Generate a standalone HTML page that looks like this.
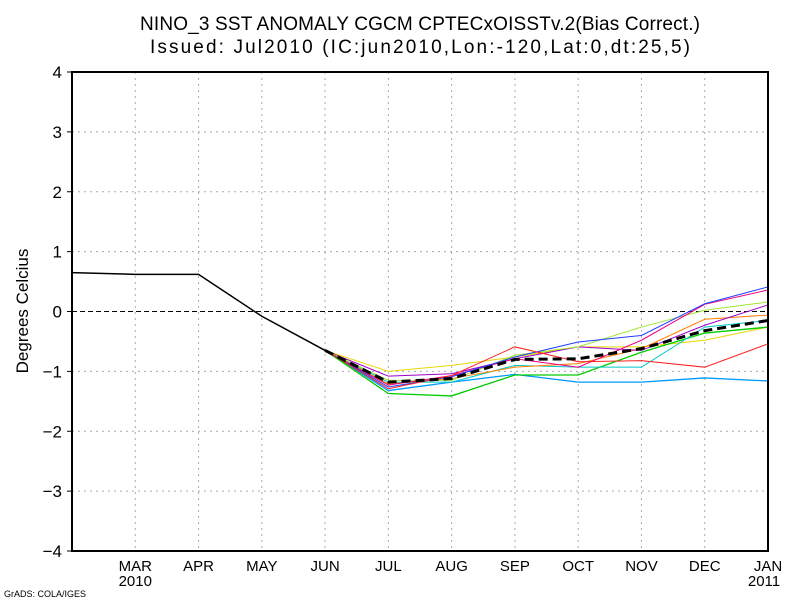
<!DOCTYPE html>
<html><head><meta charset="utf-8"><style>
body{margin:0;background:#fff;}
svg text{font-family:"Liberation Sans",sans-serif;fill:#000;}
</style></head><body>
<svg id="c" width="800" height="600" xmlns="http://www.w3.org/2000/svg">
<text x="420" y="30" text-anchor="middle" font-size="19" textLength="560">NINO_3 SST ANOMALY CGCM CPTECxOISSTv.2(Bias Correct.)</text>
<text x="420" y="53" text-anchor="middle" font-size="19" textLength="540">Issued:  Jul2010 (IC:jun2010,Lon:-120,Lat:0,dt:25,5)</text>
<text transform="translate(28,311) rotate(-90)" text-anchor="middle" font-size="17">Degrees Celcius</text>
<text x="4" y="597" font-size="9">GrADS: COLA/IGES</text>
<g id="grid"></g><g id="marks"></g><g id="axes"></g>
</svg>
<script>
const months=["FEB","MAR","APR","MAY","JUN","JUL","AUG","SEP","OCT","NOV","DEC","JAN"];
const yTicks=[4,3,2,1,0,-1,-2,-3,-4];
const observed=[0.65,0.62,0.62,-0.08,-0.65];
const ensRed=[-0.65,-1.29,-1.07,-0.59,-0.84,-0.82,-0.93,-0.54];
const ensBlue=[-0.65,-1.26,-1.09,-0.76,-0.51,-0.40,0.13,0.41];
const ensPink=[-0.65,-1.23,-1.07,-0.79,-0.93,-0.48,0.12,0.36];
const ensLime=[-0.65,-1.15,-1.15,-0.73,-0.59,-0.26,0.02,0.16];
const ensPurple=[-0.65,-1.08,-1.04,-0.79,-0.59,-0.65,-0.23,0.11];
const ensOrange=[-0.65,-1.21,-1.12,-0.93,-0.87,-0.62,-0.13,-0.06];
const ensTeal=[-0.65,-1.18,-1.18,-0.90,-0.93,-0.93,-0.26,-0.15];
const ensGreen=[-0.65,-1.37,-1.41,-1.06,-1.06,-0.68,-0.36,-0.26];
const ensYellow=[-0.65,-1.0,-0.9,-0.76,-0.59,-0.59,-0.48,-0.26];
const ensAzure=[-0.65,-1.32,-1.18,-1.05,-1.18,-1.18,-1.11,-1.16];
const ensMean=[-0.65,-1.18,-1.12,-0.80,-0.79,-0.62,-0.32,-0.15];
const X0=72,X1=768,Y0=72,Y1=551;
const xs=i=>X0+i*(X1-X0)/11;
const ys=v=>Y0+(4-v)*(Y1-Y0)/8;
const NS="http://www.w3.org/2000/svg";
function mk(tag,parent,attrs){const e=document.createElementNS(NS,tag);for(const k in attrs)e.setAttribute(k,attrs[k]);parent.appendChild(e);return e;}
const grid=document.getElementById('grid'),marks=document.getElementById('marks'),axes=document.getElementById('axes');
for(let i=1;i<11;i++){const l=mk('line',grid,{x1:xs(i),x2:xs(i),y1:Y0,y2:Y1,stroke:'#aaa','stroke-dasharray':'2,4'});

}
yTicks.forEach(v=>{if(v!==0&&v!==4&&v!==-4){const l=mk('line',grid,{x1:X0,x2:X1,y1:ys(v),y2:ys(v),stroke:'#aaa','stroke-dasharray':'2,4'});

}
const t=mk('text',axes,{x:X0-10,y:ys(v)+6,'text-anchor':'end','font-size':'17'});t.textContent=v<0?'\u2212'+(-v):String(v);


const tk=mk('line',axes,{x1:X0-5,x2:X0,y1:ys(v),y2:ys(v),stroke:'#000'});

});
const zl=mk('line',grid,{x1:X0,x2:X1,y1:ys(0),y2:ys(0),stroke:'#000','stroke-dasharray':'5,3'});


months.forEach((m,i)=>{if(i===0)return;const t=mk('text',axes,{x:xs(i),y:571,'text-anchor':'middle','font-size':'15'});t.textContent=m;

});
const y1=mk('text',axes,{x:xs(1),y:586,'text-anchor':'middle','font-size':'15'});y1.textContent='2010';


const y2=mk('text',axes,{x:xs(11)-4,y:586,'text-anchor':'middle','font-size':'15'});y2.textContent='2011';


function line(vals,start,color,w,name,dash){const pts=vals.map((v,i)=>xs(start+i)+','+ys(v)).join(' ');
const p=mk('polyline',marks,{points:pts,fill:'none',stroke:color,'stroke-width':w});if(dash)p.setAttribute('stroke-dasharray',dash);

}
line(ensYellow,4,'#e8d800',1,'member-yellow');
line(ensAzure,4,'#0099ff',1.3,'member-azure');
line(ensGreen,4,'#00cc00',1.3,'member-green');
line(ensTeal,4,'#00c8c8',1,'member-teal');
line(ensOrange,4,'#ff8000',1,'member-orange');
line(ensPurple,4,'#a000c8',1,'member-purple');
line(ensLime,4,'#a0e632',1,'member-lime');
line(ensPink,4,'#f00082',1,'member-pink');
line(ensBlue,4,'#1e3cff',1,'member-blue');
line(ensRed,4,'#ff2020',1,'member-red');
line(ensMean,4,'#000',3,'ensemble-mean','9,5');
line(observed,0,'#000',1.5,'observed-line');
const fr=mk('rect',axes,{x:X0,y:Y0,width:X1-X0,height:Y1-Y0,fill:'none',stroke:'#000','stroke-width':2});


</script>
</body></html>
